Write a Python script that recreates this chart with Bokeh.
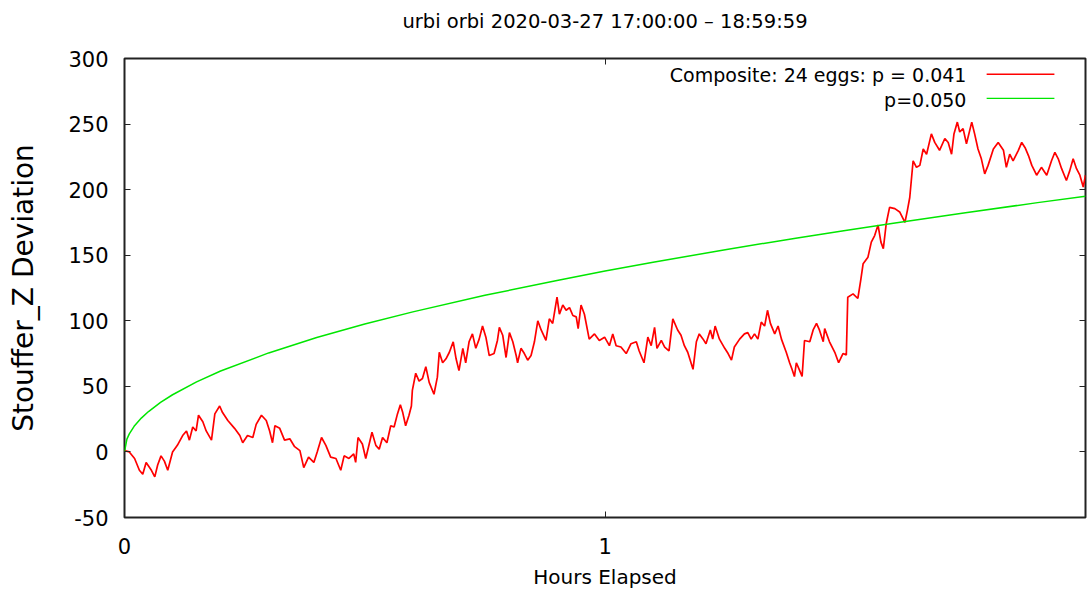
from bokeh.plotting import figure
from bokeh.models import Range1d, LinearAxis, FixedTicker
from bokeh.embed import file_html
from bokeh.resources import INLINE
from bokeh.core.properties import value

title_text = "urbi orbi 2020-03-27 17:00:00 \u2013 18:59:59"
x_label = "Hours Elapsed"
y_label = "Stouffer_Z Deviation"
legend_labels = ["Composite: 24 eggs: p = 0.041", "p=0.050"]
x_ticks = [0, 1]
y_ticks = [-50, 0, 50, 100, 150, 200, 250, 300]

hours = [
    0.000, 0.010, 0.021, 0.031, 0.038, 0.045, 0.056, 0.063, 0.069, 0.076, 0.083, 0.090,
    0.100, 0.110, 0.121, 0.129, 0.135, 0.142, 0.149, 0.154, 0.163, 0.170, 0.181, 0.188,
    0.198, 0.204, 0.215, 0.229, 0.240, 0.246, 0.256, 0.267, 0.274, 0.285, 0.295, 0.302,
    0.308, 0.313, 0.323, 0.333, 0.344, 0.354, 0.365, 0.373, 0.383, 0.394, 0.401, 0.410,
    0.419, 0.429, 0.440, 0.450, 0.457, 0.467, 0.477, 0.481, 0.486, 0.495, 0.502, 0.515,
    0.523, 0.530, 0.537, 0.546, 0.554, 0.561, 0.568, 0.574, 0.579, 0.585, 0.592, 0.597,
    0.599, 0.606, 0.613, 0.620, 0.627, 0.634, 0.644, 0.651, 0.655, 0.662, 0.669, 0.676,
    0.684, 0.690, 0.696, 0.704, 0.710, 0.717, 0.724, 0.731, 0.738, 0.745, 0.752, 0.759,
    0.769, 0.776, 0.780, 0.787, 0.794, 0.801, 0.808, 0.815, 0.818, 0.825, 0.832, 0.839,
    0.846, 0.853, 0.860, 0.867, 0.877, 0.884, 0.891, 0.900, 0.905, 0.912, 0.919, 0.926,
    0.933, 0.940, 0.944, 0.950, 0.957, 0.967, 0.978, 0.988, 0.999, 1.009, 1.016, 1.023,
    1.033, 1.044, 1.054, 1.065, 1.071, 1.081, 1.089, 1.096, 1.103, 1.108, 1.117, 1.124,
    1.133, 1.141, 1.151, 1.158, 1.165, 1.172, 1.183, 1.190, 1.196, 1.204, 1.210, 1.219,
    1.224, 1.229, 1.238, 1.249, 1.256, 1.263, 1.269, 1.280, 1.290, 1.297, 1.304, 1.311,
    1.318, 1.325, 1.332, 1.338, 1.344, 1.353, 1.360, 1.367, 1.377, 1.384, 1.389, 1.394,
    1.398, 1.405, 1.410, 1.415, 1.426, 1.433, 1.440, 1.446, 1.454, 1.457, 1.467, 1.478,
    1.486, 1.495, 1.502, 1.505, 1.516, 1.526, 1.532, 1.537, 1.547, 1.554, 1.561, 1.568,
    1.574, 1.579, 1.585, 1.592, 1.603, 1.613, 1.624, 1.629, 1.634, 1.641, 1.648, 1.655,
    1.662, 1.669, 1.679, 1.686, 1.696, 1.707, 1.714, 1.721, 1.726, 1.733, 1.738, 1.745,
    1.752, 1.763, 1.769, 1.776, 1.783, 1.790, 1.797, 1.808, 1.818, 1.829, 1.835, 1.842,
    1.849, 1.860, 1.867, 1.874, 1.881, 1.888, 1.898, 1.908, 1.919, 1.929, 1.936, 1.943,
    1.950, 1.960, 1.967, 1.974, 1.981, 1.988, 1.995, 1.9997,
]
composite_dev = [
    1, 0, -5, -14, -17, -8, -14, -19, -10, -3, -7, -14,
    0, 5, 12.5, 16, 9, 19, 16, 28, 23, 16, 9, 29,
    35, 30, 24, 18, 12.5, 7, 12.5, 11, 21, 28, 24, 16,
    7, 20, 18, 9, 10, 4, 1, -12, -4, -8, 0, 11,
    5, -4, -5, -14, -3, -5, -1.5, -8, 11, 6, -5, 15,
    5, 2, 11, 7, 20, 19, 29, 36, 30, 20, 28, 35,
    47, 60, 54, 56, 65, 53, 44, 57, 76, 68, 71, 76,
    84, 71, 62, 79, 68, 84, 90, 79, 86, 96, 87.5, 73.5,
    75, 85, 95, 89, 72, 91, 84, 73.5, 68, 79, 75, 70,
    73.5, 84, 100, 93, 85, 101.5, 98, 118, 105, 112, 108, 110,
    104, 103, 94, 112, 105, 86, 90, 85, 87.5, 81, 90, 81,
    80, 75, 82.5, 84, 77, 68, 87.5, 81, 95, 79, 85, 80,
    77, 101.5, 93, 89, 81, 76, 63, 84, 90, 86, 82.5, 93,
    86, 96, 86, 79, 75, 70, 80, 86, 90, 91, 86, 90,
    86, 99, 96, 108, 98, 90, 96, 86, 76, 68, 63, 57.5,
    68, 62, 57.5, 85, 84, 93, 98, 93, 84, 94, 84, 76,
    68, 75, 74, 118, 120.5, 117, 131, 143.5, 148.5, 160, 165, 173,
    160, 155, 174, 186.5, 185.5, 183, 175, 184, 194, 222, 217, 218.5,
    231, 227, 242.5, 236, 230, 239, 236, 227, 242.5, 251.5, 244, 246.5,
    235, 251.5, 242.5, 231, 223.5, 212, 218.5, 231, 236, 230, 217, 227,
    222, 230, 236, 232, 226, 218.5, 211, 217, 211, 222, 228.5, 223.5,
    216, 207, 214.5, 223.5, 216, 211, 202, 211,
]

p05_hours = [0, 0.005, 0.01, 0.02, 0.035, 0.05, 0.075, 0.1, 0.15, 0.2, 0.3, 0.4, 0.5,
             0.6, 0.75, 0.9, 1.0, 1.1, 1.25, 1.4, 1.5, 1.6, 1.75, 1.9, 1.9997]
p05_dev = [0, 9.8, 13.8, 19.5, 25.8, 30.8, 37.8, 43.6, 53.4, 61.7, 75.5, 87.2, 97.5,
           106.8, 119.4, 130.8, 137.9, 144.6, 154.2, 163.2, 168.9, 174.4, 182.4, 190.1, 195.0]

FONT = "DejaVu Sans"
RED = "#ff0000"
GREEN = "#00e600"
FRAME = "#222222"

p = figure(width=1087, height=591, output_backend="svg", toolbar_location=None,
           x_range=Range1d(0, 1.9997), y_range=Range1d(-50, 300),
           min_border_left=124, min_border_right=2, min_border_top=58, min_border_bottom=74)

p.grid.visible = False
p.outline_line_color = FRAME
p.outline_line_width = 2
p.background_fill_color = "white"
p.border_fill_color = "white"

for ax in [p.xaxis[0], p.yaxis[0]]:
    ax.axis_line_color = None
    ax.major_tick_in = 6
    ax.major_tick_out = 0
    ax.minor_tick_line_color = None
    ax.major_tick_line_color = FRAME
    ax.major_label_text_font = FONT
    ax.major_label_text_font_size = "21px"
    ax.major_label_text_color = "black"
    ax.axis_label_text_font = FONT
    ax.axis_label_text_font_style = "normal"
    ax.axis_label_text_color = "black"

p.xaxis.ticker = FixedTicker(ticks=x_ticks)
p.yaxis.ticker = FixedTicker(ticks=y_ticks)
p.yaxis.major_label_overrides = {t: str(t) for t in y_ticks}
p.xaxis.axis_label = x_label
p.yaxis.axis_label = y_label
p.xaxis.axis_label_text_font_size = "20px"
p.yaxis.axis_label_text_font_size = "28px"
p.xaxis.major_label_standoff = 20
p.xaxis.axis_label_standoff = 8
p.yaxis.major_label_standoff = 16
p.yaxis.axis_label_standoff = 25

# mirrored ticks on the right and top sides (gnuplot style); the chart title
# sits above the top side
right = LinearAxis(ticker=FixedTicker(ticks=y_ticks))
top = LinearAxis(ticker=FixedTicker(ticks=x_ticks), axis_label=title_text)
for ax in [right, top]:
    ax.axis_line_color = None
    ax.major_tick_in = 6
    ax.major_tick_out = 0
    ax.minor_tick_line_color = None
    ax.major_tick_line_color = FRAME
    ax.major_label_text_font_size = "1px"
    ax.major_label_text_color = None
    ax.major_label_standoff = 0
top.axis_label_text_font = FONT
top.axis_label_text_font_size = "19.5px"
top.axis_label_text_font_style = "normal"
top.axis_label_text_color = "black"
top.axis_label_standoff = 26
p.add_layout(right, "right")
p.add_layout(top, "above")

p.line(hours, composite_dev, line_color=RED, line_width=1.7)
p.line(p05_hours, p05_dev, line_color=GREEN, line_width=1.5)

# legend (text on the left, sample line on the right, like gnuplot)
p.text(x=[1.752, 1.752], y=[287.5, 268.5], text=legend_labels,
       text_align="right", text_baseline="middle",
       text_font=value(FONT), text_font_size="19px", text_color="black")
p.segment(x0=[1.794, 1.794], y0=[288, 269.6], x1=[1.935, 1.935], y1=[288, 269.6],
          line_color=[RED, GREEN], line_width=1.3)

open("out.html", "w").write(file_html(p, INLINE))
